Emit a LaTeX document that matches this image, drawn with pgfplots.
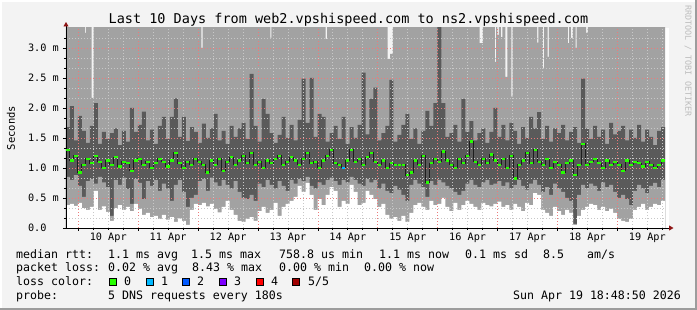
\documentclass[border=0pt]{standalone}
\usepackage{fontspec}
\setmainfont{DejaVu Sans Mono}
\setmonofont{DejaVu Sans Mono}
\usepackage{pgfplots}
\usepackage{pgfplotstable}
\pgfplotsset{compat=1.18}
\usetikzlibrary{arrows.meta}
\definecolor{bgc}{HTML}{F3F3F3}
\definecolor{framedark}{HTML}{9C9C9C}
\definecolor{smokelight}{HTML}{A2A2A2}
\definecolor{smokedark}{HTML}{5A5A5A}
\definecolor{medblack}{HTML}{1E1E1E}
\definecolor{lossgreen}{HTML}{26FF00}
\definecolor{lossone}{HTML}{00B8FF}
\definecolor{losstwo}{HTML}{0059FF}
\definecolor{lossthree}{HTML}{7E00FF}
\definecolor{lossfour}{HTML}{FF0000}
\definecolor{lossfive}{HTML}{A00000}
\definecolor{gridred}{HTML}{EC7A7A}
\definecolor{gridgray}{HTML}{C8C8C8}
\definecolor{arrowred}{HTML}{8E1414}
\definecolor{wmark}{HTML}{BDBDBD}

\pgfplotstableread{
i mn q2 q4 med
0 0.38 0.85 1.68 1.30
1 0.40 0.80 2.03 1.12
2 0.37 0.88 1.46 1.20
3 0.42 0.70 1.87 0.92
4 0.33 0.52 1.62 1.05
5 0.30 0.78 1.42 1.15
6 0.35 0.82 1.70 1.08
7 0.62 0.74 2.08 1.20
8 0.30 0.85 1.40 1.10
9 0.36 0.76 1.60 1.00
10 0.27 0.68 1.48 1.12
11 0.12 0.20 1.58 1.05
12 0.33 0.80 1.66 1.18
13 0.38 0.72 1.38 1.02
14 0.30 0.84 1.62 1.10
15 0.35 0.65 1.44 1.08
16 0.28 0.40 2.00 0.95
17 0.40 0.82 1.60 1.12
18 0.32 0.75 1.72 1.15
19 0.22 0.48 1.94 1.05
20 0.25 0.78 1.46 1.10
21 0.18 0.70 1.64 1.00
22 0.20 0.80 1.40 1.08
23 0.15 0.62 1.70 1.15
24 0.22 0.74 1.85 1.10
25 0.14 0.66 1.48 1.02
26 0.18 0.45 1.85 1.12
27 0.10 0.72 2.16 1.25
28 0.16 0.80 1.52 1.08
29 0.12 0.60 1.85 1.00
30 0.05 0.35 1.45 1.10
31 0.30 0.50 1.68 1.05
32 0.40 0.55 1.60 1.15
33 0.38 0.78 1.42 1.10
34 0.42 0.82 1.74 1.05
35 0.36 0.62 1.50 0.92
36 0.40 0.84 1.66 1.12
37 0.32 0.76 1.90 1.05
38 0.26 0.70 1.46 1.15
39 0.35 0.80 1.62 0.95
40 0.45 0.72 1.40 1.10
41 0.30 0.66 1.70 1.18
42 0.22 0.78 1.52 1.05
43 0.12 0.60 1.66 1.12
44 0.10 0.50 1.75 1.20
45 0.15 0.48 1.48 1.08
46 0.18 0.55 2.57 1.25
47 0.12 0.45 1.70 1.05
48 0.28 0.74 1.44 1.10
49 0.35 0.68 2.15 1.00
50 0.25 0.80 1.90 1.12
51 0.30 0.72 1.58 1.08
52 0.42 0.66 1.42 1.15
53 0.20 0.78 1.55 1.20
54 0.35 0.70 1.85 1.05
55 0.40 0.62 1.50 1.10
56 0.45 0.80 1.72 1.18
57 0.52 0.74 1.46 1.12
58 0.70 0.82 1.80 1.05
59 0.60 0.78 2.49 1.15
60 0.75 0.85 1.75 1.25
61 0.55 0.70 2.50 1.08
62 0.30 0.66 1.52 1.10
63 0.48 0.76 1.90 1.00
64 0.38 0.72 1.85 1.12
65 0.55 0.80 1.44 1.20
66 0.68 0.84 1.58 1.30
67 0.62 0.78 1.70 1.08
68 0.35 0.72 1.48 1.05
69 0.45 0.80 1.85 1.00
70 0.40 0.76 1.40 1.12
71 0.72 0.85 1.68 1.30
72 0.60 0.80 1.50 1.10
73 0.38 0.74 1.72 1.15
74 0.42 0.70 2.59 1.05
75 0.62 0.82 1.56 1.18
76 0.55 0.76 2.15 1.25
77 0.48 0.80 2.34 1.10
78 0.35 0.66 1.46 1.05
79 0.40 0.74 1.58 1.12
80 0.22 0.62 1.70 1.00
81 0.15 0.58 2.47 1.08
82 0.18 0.70 1.44 1.05
83 0.12 0.64 1.55 1.05
84 0.20 0.55 1.72 1.05
85 0.10 0.45 1.90 0.88
86 0.25 0.72 1.48 0.92
87 0.38 0.80 1.66 1.12
88 0.42 0.74 1.40 1.05
89 0.35 0.68 1.62 1.20
90 0.30 0.52 1.95 0.76
91 0.45 0.78 1.70 1.08
92 0.38 0.72 2.08 1.15
93 0.40 0.80 3.40 1.10
94 0.50 0.76 2.08 1.27
95 0.35 0.70 1.52 1.12
96 0.28 0.66 1.58 1.05
97 0.42 0.60 1.72 1.00
98 0.30 0.55 1.44 1.15
99 0.38 0.62 2.15 1.08
100 0.45 0.74 1.60 1.20
101 0.40 0.80 1.78 1.44
102 0.35 0.72 1.46 1.10
103 0.30 0.68 1.58 1.05
104 0.42 0.76 1.66 1.15
105 0.38 0.80 1.42 1.08
106 0.36 0.72 1.60 1.22
107 0.40 0.74 2.00 1.12
108 0.44 0.78 1.52 1.05
109 0.35 0.70 1.72 1.15
110 0.38 0.76 1.46 1.00
111 0.30 0.66 1.75 1.20
112 0.40 0.72 1.62 0.82
113 0.35 0.80 1.40 1.05
114 0.28 0.70 1.68 1.12
115 0.42 0.64 1.50 1.25
116 0.38 0.74 1.85 1.08
117 0.58 0.80 1.66 1.30
118 0.55 0.72 1.93 1.10
119 0.30 0.60 1.48 1.05
120 0.25 0.68 1.70 1.15
121 0.20 0.55 1.44 1.00
122 0.35 0.74 1.66 1.10
123 0.28 0.66 1.58 1.05
124 0.22 0.60 1.72 0.92
125 0.30 0.50 1.46 1.08
126 0.25 0.45 1.60 1.12
127 0.05 0.07 1.68 0.88
128 0.20 0.55 1.42 1.05
129 0.30 0.72 2.49 1.40
130 0.35 0.66 1.66 1.05
131 0.40 0.74 1.48 1.10
132 0.38 0.70 1.70 1.15
133 0.30 0.62 1.52 1.08
134 0.35 0.76 1.64 1.00
135 0.28 0.68 1.40 1.12
136 0.32 0.72 1.75 1.05
137 0.25 0.60 1.56 1.10
138 0.15 0.50 1.62 1.05
139 0.12 0.55 1.70 0.95
140 0.10 0.48 1.46 1.12
141 0.15 0.38 1.64 1.05
142 0.30 0.62 1.50 1.10
143 0.35 0.72 1.72 1.08
144 0.40 0.66 1.44 1.02
145 0.30 0.58 1.64 1.10
146 0.35 0.70 1.52 1.05
147 0.40 0.75 1.38 1.00
148 0.38 0.68 1.62 1.05
149 0.45 0.80 1.68 1.12
150 0.45 0.80 1.68 1.12
}\data

\pgfplotstableread{
x v
0 3.5
4.75 3.25
5.0 3.5
6.4 2.17
6.9 3.5
33.9 3.0
34.2 3.5
51.2 3.17
51.45 3.5
65.0 3.15
65.4 3.5
80.55 2.82
81.15 2.9
81.85 3.5
103.6 3.08
104.4 3.5
107.4 2.77
107.7 3.5
108.0 3.22
108.4 3.5
108.9 3.18
109.3 3.5
110.0 2.52
110.5 3.5
111.5 2.19
111.85 3.5
118.0 3.09
118.3 3.5
119.4 2.67
119.75 3.5
120.6 2.85
120.9 3.5
125.7 3.08
126.0 3.5
126.4 3.17
126.9 3.5
127.6 3.0
127.9 3.5
130.25 3.25
130.7 3.5
150 3.5
}\maxtab

\begin{document}
\begin{tikzpicture}[x=1pt,y=1pt]
\useasboundingbox (0,0) rectangle (697,310);
\fill[bgc] (0,0) rectangle (697,310);
\fill[white] (0,308) rectangle (697,310);
\fill[white] (0,0) rectangle (2,310);
\fill[framedark] (0,0) rectangle (697,2);
\fill[framedark] (695,0) rectangle (697,310);
\fill[white] (665,82) rectangle (669,282);

\begin{axis}[
  at={(66pt,82pt)}, anchor=south west,
  width=599pt, height=200pt, scale only axis,
  xmin=0, xmax=150, ymin=0, ymax=3.33333,
  axis lines=left,
  axis on top,
  x axis line style={line width=0.9pt, -{Triangle[width=5pt,length=4.5pt,color=arrowred]}, shorten >=-8.5pt},
  y axis line style={line width=0.9pt, -{Triangle[width=5pt,length=4.5pt,color=arrowred]}, shorten >=-6pt},
  xtick={3.08,18.08,33.08,48.08,63.08,78.08,93.08,108.08,123.08,138.08},
  xticklabels={},
  minor xtick={6.83,10.58,14.33,21.83,25.58,29.33,36.83,40.58,44.33,51.83,55.58,59.33,66.83,70.58,74.33,81.83,85.58,89.33,96.83,100.58,104.33,111.83,115.58,119.33,126.83,130.58,134.33,141.83,145.58,149.33},
  extra x ticks={10.58,25.58,40.58,55.58,70.58,85.58,100.58,115.58,130.58,145.58},
  extra x tick labels={10 Apr,11 Apr,12 Apr,13 Apr,14 Apr,15 Apr,16 Apr,17 Apr,18 Apr,19 Apr},
  extra x tick style={grid=none, major tick length=0pt},
  ytick={0,0.5,1,1.5,2,2.5,3},
  yticklabels={0.0\phantom{ m},0.5 m,1.0 m,1.5 m,2.0 m,2.5 m,3.0 m},
  minor ytick={0.16667,0.33333,0.66667,0.83333,1.16667,1.33333,1.66667,1.83333,2.16667,2.33333,2.66667,2.83333,3.16667},
  xmajorgrids, ymajorgrids, xminorgrids, yminorgrids,
  major grid style={draw=gridred, line width=0.8pt, dash pattern=on 1pt off 2pt},
  minor grid style={draw=gridgray, line width=0.8pt, dash pattern=on 1pt off 2pt},
  tick align=outside,
  major tick length=3pt, minor tick length=2pt,
  tick style={black, line width=0.8pt},
  xticklabel style={font=\fontsize{10.2pt}{12pt}\selectfont, anchor=north, inner sep=0pt, yshift=-5pt},
  yticklabel style={font=\fontsize{10.2pt}{12pt}\selectfont, anchor=east, inner sep=0pt, xshift=-4pt},
  clip=true,
]
\addplot[const plot, fill=smokelight, draw=none] table[x=x,y=v] {\maxtab} \closedcycle;
\addplot[const plot, fill=smokedark, draw=none] table[x=i,y=q4] {\data} \closedcycle;
\addplot[const plot, fill=smokelight, draw=none] table[x=i,y=q2] {\data} \closedcycle;
\addplot[const plot, fill=white, draw=none] table[x=i,y=mn] {\data} \closedcycle;
\addplot[const plot mark mid, draw=medblack, line width=1pt, skip coords between index={150}{151}] table[x expr=\thisrow{i}+0.5, y=med] {\data};
\addplot[only marks, mark=-, mark size=1.7pt, mark options={draw=lossgreen, line width=2.6pt}, skip coords between index={150}{151}] table[x expr=\thisrow{i}+0.5, y=med] {\data};
\addplot[only marks, mark=-, mark size=1.7pt, mark options={draw=lossone, line width=2.6pt}] coordinates {(69.5,1.00)};
\end{axis}

% title
\node[anchor=base, inner sep=0pt] at (348.5,286) {\fontsize{13.5pt}{16pt}\selectfont Last 10 Days from web2.vpshispeed.com to ns2.vpshispeed.com};
% y label
\node[rotate=90, anchor=center, inner sep=0pt] at (11,182) {\fontsize{10.5pt}{12pt}\selectfont Seconds};
% watermark
\node[rotate=-90, anchor=west, inner sep=0pt, text=wmark] at (688,305) {\fontsize{8.4pt}{10pt}\selectfont RRDTOOL / TOBI OETIKER};

% legend
\begin{scope}[every node/.style={anchor=base west, inner sep=0pt, font=\fontsize{11.6pt}{13pt}\selectfont}]
\node at (16,51.5) {median rtt:};
\node at (108,51.5) {1.1 ms avg};
\node at (191,51.5) {1.5 ms max};
\node at (279,51.5) {758.8 us min};
\node at (379,51.5) {1.1 ms now};
\node at (465,51.5) {0.1 ms sd};
\node at (543,51.5) {8.5};
\node at (587,51.5) {am/s};
\node at (16,38) {packet loss:};
\node at (108,38) {0.02 \% avg};
\node at (192,38) {8.43 \% max};
\node at (279,38) {0.00 \% min};
\node at (364,38) {0.00 \% now};
\node at (16,24) {loss color:};
\node at (124,24) {0};
\node at (161,24) {1};
\node at (197,24) {2};
\node at (234,24) {3};
\node at (271,24) {4};
\node at (308,24) {5/5};
\node at (16,10) {probe:};
\node at (108,10) {5 DNS requests every 180s};
\node[anchor=base east] at (681,10) {Sun Apr 19 18:48:50 2026};
\end{scope}
\filldraw[fill=lossgreen, draw=black, line width=0.8pt] (109.5,24.5) rectangle (116.5,31.5);
\filldraw[fill=lossone, draw=black, line width=0.8pt] (146.5,24.5) rectangle (153.5,31.5);
\filldraw[fill=losstwo, draw=black, line width=0.8pt] (182.5,24.5) rectangle (189.5,31.5);
\filldraw[fill=lossthree, draw=black, line width=0.8pt] (219.5,24.5) rectangle (226.5,31.5);
\filldraw[fill=lossfour, draw=black, line width=0.8pt] (256.5,24.5) rectangle (263.5,31.5);
\filldraw[fill=lossfive, draw=black, line width=0.8pt] (292.5,24.5) rectangle (299.5,31.5);
\end{tikzpicture}
\end{document}
